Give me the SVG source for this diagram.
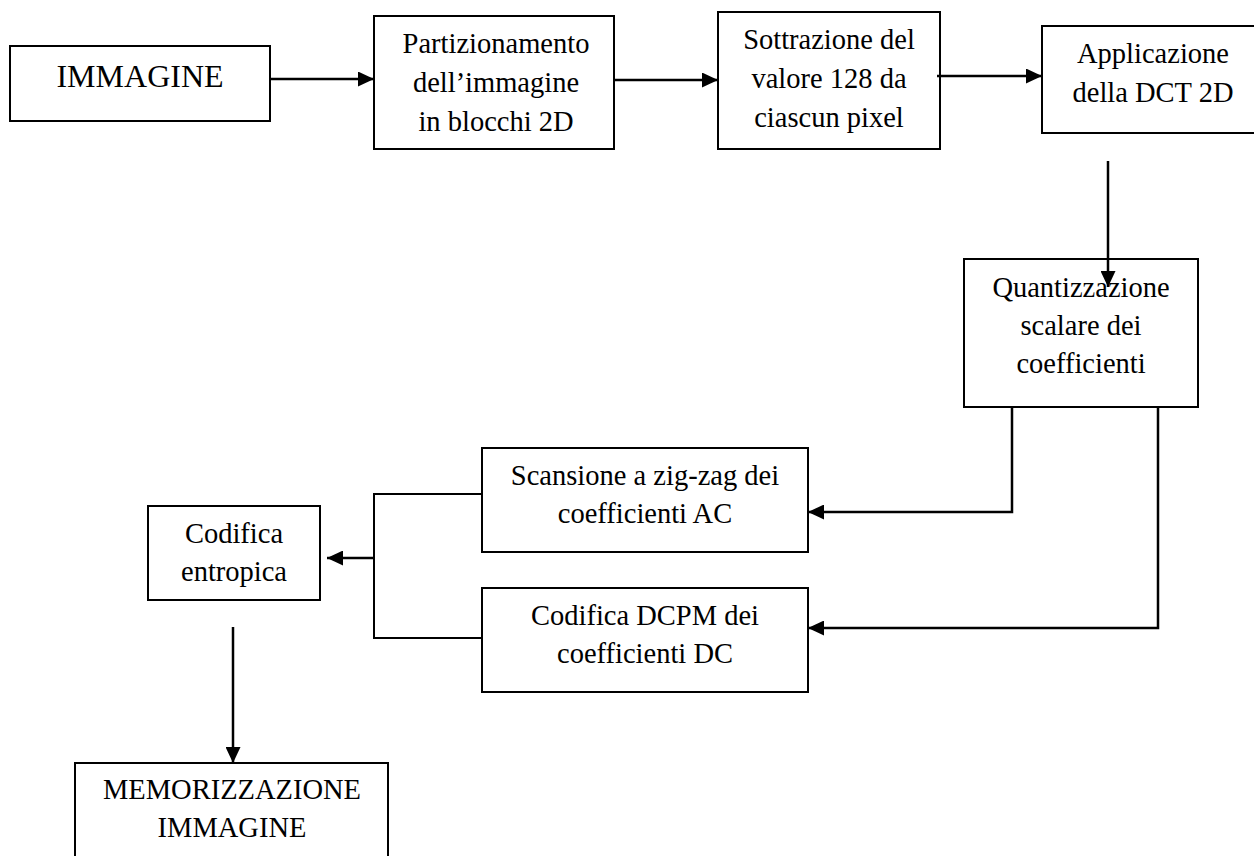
<svg xmlns="http://www.w3.org/2000/svg" width="1254" height="856" viewBox="0 0 1254 856">
  <style>
    .box { fill: #ffffff; stroke: #000000; stroke-width: 2; }
    .lbl { font-family: "Liberation Serif", "Times New Roman", serif; font-size: 28.5px; fill: #000000; text-anchor: middle; }
    .big { font-size: 32px; }
    .arrow { fill: none; stroke: #000000; stroke-width: 2.5; marker-end: url(#head); }
    .wire { fill: none; stroke: #000000; stroke-width: 2; }
  </style>
  <defs>
    <marker id="head" markerUnits="userSpaceOnUse" markerWidth="16" markerHeight="15" refX="16" refY="7.5" orient="auto">
      <path d="M0,0 L16,7.5 L0,15 Z" fill="#000000"/>
    </marker>
  </defs>
  <rect width="1254" height="856" fill="#ffffff"/>

  <g id="n-immagine">
    <rect class="box" x="10" y="46" width="260" height="75"/>
    <text class="lbl big" x="140" y="87">IMMAGINE</text>
  </g>

  <g id="n-partizionamento">
    <rect class="box" x="374" y="16" width="240" height="133"/>
    <text class="lbl" x="496" y="53">Partizionamento</text>
    <text class="lbl" x="496" y="92">dell’immagine</text>
    <text class="lbl" x="496" y="131">in blocchi 2D</text>
  </g>

  <g id="n-sottrazione">
    <rect class="box" x="718" y="12" width="222" height="137"/>
    <text class="lbl" x="829" y="49">Sottrazione del</text>
    <text class="lbl" x="829" y="88">valore 128 da</text>
    <text class="lbl" x="829" y="127">ciascun pixel</text>
  </g>

  <g id="n-dct">
    <rect class="box" x="1042" y="26" width="222" height="107"/>
    <text class="lbl" x="1153" y="63">Applicazione</text>
    <text class="lbl" x="1153" y="102">della DCT 2D</text>
  </g>

  <g id="n-quantizzazione">
    <rect class="box" x="964" y="259" width="234" height="148"/>
    <text class="lbl" x="1081" y="297">Quantizzazione</text>
    <text class="lbl" x="1081" y="335">scalare dei</text>
    <text class="lbl" x="1081" y="373">coefficienti</text>
  </g>

  <g id="n-zigzag">
    <rect class="box" x="482" y="448" width="326" height="104"/>
    <text class="lbl" x="645" y="485">Scansione a zig-zag dei</text>
    <text class="lbl" x="645" y="523">coefficienti AC</text>
  </g>

  <g id="n-dcpm">
    <rect class="box" x="482" y="588" width="326" height="104"/>
    <text class="lbl" x="645" y="625">Codifica DCPM dei</text>
    <text class="lbl" x="645" y="663">coefficienti DC</text>
  </g>

  <g id="n-entropica">
    <rect class="box" x="148" y="506" width="172" height="94"/>
    <text class="lbl" x="234" y="543">Codifica</text>
    <text class="lbl" x="234" y="581">entropica</text>
  </g>

  <g id="n-memorizzazione">
    <rect class="box" x="75" y="763" width="313" height="110"/>
    <text class="lbl" x="232" y="799">MEMORIZZAZIONE</text>
    <text class="lbl" x="232" y="837">IMMAGINE</text>
  </g>

  <g id="connectors">
    <line class="arrow" x1="270" y1="79" x2="374" y2="79"/>
    <line class="arrow" x1="614" y1="80" x2="718" y2="80"/>
    <line class="arrow" x1="937" y1="76" x2="1042" y2="76"/>
    <line class="arrow" x1="1108" y1="161" x2="1108" y2="287"/>
    <polyline class="arrow" points="1012,407 1012,512 808,512"/>
    <polyline class="arrow" points="1158,407 1158,628 808,628"/>
    <polyline class="wire" points="482,494 374,494 374,638 482,638"/>
    <line class="arrow" x1="374" y1="558" x2="327" y2="558"/>
    <line class="arrow" x1="233" y1="627" x2="233" y2="763"/>
  </g>
</svg>
